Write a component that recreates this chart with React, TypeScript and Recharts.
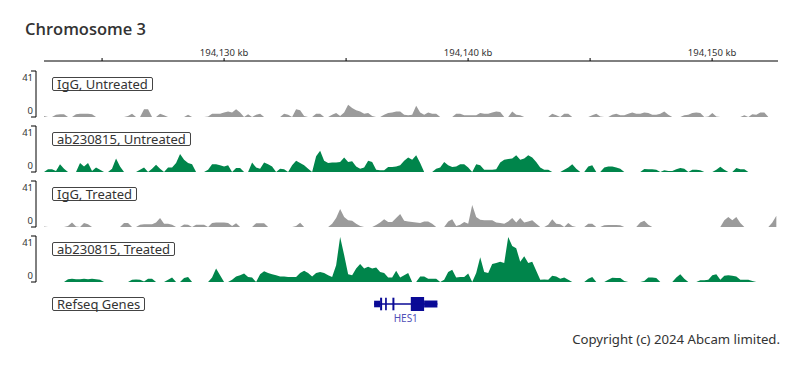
import React from 'react';
import { AreaChart, Area, XAxis, YAxis, LineChart, Line, ComposedChart, ReferenceArea, ReferenceLine } from 'recharts';

const TITLE = 'Chromosome 3';
const COPYRIGHT = 'Copyright (c) 2024 Abcam limited.';
const X_START_KB = 194122.62;
const X_END_KB = 194152.70;
const LEFT_PAD_KB = 0.328;
const BIN_KB = 0.164;
const AXIS_TICKS = [194125, 194130, 194135, 194140, 194145, 194150];
const Y_MAX = 41;
const Y_TICKS = [0, 41];

const TRACK_NAMES = ['IgG, Untreated', 'ab230815, Untreated', 'IgG, Treated', 'ab230815, Treated'];
const TRACK_COLORS = ['#9b9b9b', '#00854b', '#9b9b9b', '#00854b'];

const IGG_UNTREATED = [
  1, 0, 0, 2, 2.5, 2.5, 0, 0, 2.5, 3,
  3, 3, 2.5, 0, 0, 0, 0, 0, 0, 0,
  0, 1, 3, 0, 0, 7, 7, 0, 0, 3,
  1.5, 0, 0, 0, 0, 0, 2, 0, 0, 0,
  0, 0.5, 3, 3, 3, 4, 5, 4, 7, 4,
  0, 2.5, 0, 2, 3, 0, 0, 0, 0, 0,
  3, 2, 0, 7, 6, 1, 0, 0, 3, 3,
  0, 0, 2, 3.5, 1, 4, 11, 8, 6, 5,
  3, 3.5, 1, 0, 0, 2, 3.5, 4, 5, 5,
  2, 1.5, 2, 10, 4, 2, 4, 3, 3, 0,
  0, 0, 0, 3, 3, 1.5, 1.5, 1.5, 1.5, 3.5,
  3, 3, 4, 5, 4.5, 0, 0, 5, 2, 1.5,
  0, 0, 0, 0, 0, 0, 0, 3, 1.5, 0,
  3, 3, 0, 0, 0, 0, 0, 1.5, 3, 0.5,
  0, 0, 2, 3, 1.5, 1.5, 3, 4, 3, 3,
  4, 3.5, 2, 2, 3, 5, 2, 0, 0, 0,
  1.5, 2, 3.5, 4, 3.5, 0, 0.5, 3.5, 0.5, 0,
  0, 0, 0, 0, 0, 1.5, 0, 2.5, 2, 4,
  4, 0, 0, 0,
];

const AB_UNTREATED = [
  0, 2.5, 2.5, 1, 7, 3, 0, 0, 0, 8,
  5, 8, 1, 4, 2, 0, 0, 3, 12, 5,
  0, 0, 0, 0, 2, 4, 0, 3, 6.5, 3,
  0, 4, 4, 8, 16, 11, 8, 7, 0, 0,
  0, 2, 7, 7, 6, 5, 6, 0, 3.5, 3.5,
  0, 0, 8.5, 4, 3, 8.5, 7, 5, 0, 3,
  2.5, 0, 6, 10, 8, 6, 3, 0, 14, 19,
  10, 8, 8.5, 8.5, 9, 13, 9, 9.5, 5, 3,
  4, 10, 9, 2, 1.5, 1.5, 4.5, 4.5, 5, 6,
  10, 13, 11, 15, 8, 0, 0, 0, 3, 4,
  9, 6, 4.5, 5, 7, 7, 4, 0, 7, 6,
  2, 2, 2, 2.5, 8.5, 11, 11.5, 12, 15, 11,
  12, 15, 13, 9, 4, 2, 2, 0, 0, 0,
  2, 4, 7, 3, 0, 0, 5, 6, 0, 0,
  4, 5, 5, 4, 3, 0, 0, 0, 0, 0,
  2.7, 2.5, 2.5, 2, 0, 1.5, 1, 1, 2.5, 3.5,
  3, 0, 2, 2, 1.5, 0, 0, 0, 2, 4.7,
  2, 0, 0, 3.6, 2.5, 2.5, 0, 0, 0, 0,
  0, 0, 0, 0,
];

const IGG_TREATED = [
  0.5, 0, 0, 0, 0, 0, 1, 4, 0.5, 0,
  3.5, 2.5, 0, 0, 0, 0, 0, 0, 0, 0,
  3.5, 3.5, 0, 0, 2, 2.5, 2.5, 2.5, 4, 8,
  3, 3, 2, 0, 0, 2.3, 2, 0, 2, 2,
  2, 0, 3.5, 4, 4, 4, 3.5, 1, 3.4, 0,
  0, 0, 0, 3.4, 3.4, 3.4, 0, 0, 0, 0,
  0, 0, 0, 1, 3.8, 0, 0, 0, 0, 0,
  0, 0, 3, 8, 16, 9, 6, 5.5, 3, 1,
  0, 0, 0, 1.7, 4, 7, 4.5, 4.5, 8, 11.5,
  5.5, 5, 4.5, 4, 3.5, 5, 5, 3, 0, 0,
  0, 5, 7, 1, 2, 4.5, 3, 19.5, 9, 6.5,
  6, 6, 6, 4, 3.5, 3, 5, 8, 4, 8,
  4, 5, 6, 3, 0, 0, 2, 7, 3, 2.5,
  0, 3.6, 1, 0, 0, 0, 3, 3, 0, 0,
  1.5, 1.8, 1.8, 1.8, 1.5, 0, 0, 0, 0, 4,
  5.6, 2, 0, 0, 0, 0, 0, 0, 0, 0,
  0, 0, 0, 0, 0, 0, 0, 0, 0, 0,
  6, 9, 6, 9, 3.5, 0, 0, 0, 0, 0,
  0, 0, 4, 10,
];

const AB_TREATED = [
  0, 0, 0, 0, 0, 0, 2.5, 3, 2.5, 2.5,
  3, 2.5, 3, 2.5, 2, 0, 0, 0, 0, 0,
  0, 0, 2, 2.3, 2, 0.5, 3, 3, 0, 0,
  0, 2, 4, 0, 0, 3.5, 4.5, 0, 0, 0,
  0, 0, 4, 12, 6, 0, 0, 2, 5, 6,
  7.5, 4.5, 4, 0, 7, 9.5, 8, 7, 6, 5,
  5, 4.5, 4.5, 4.5, 8, 10, 8, 5, 8, 9,
  8, 6, 4.5, 15, 40, 24, 7, 6, 12, 16,
  12, 13.5, 12, 13, 9, 8, 4, 4, 10, 4,
  6, 8, 0, 0, 5, 5, 3, 3, 3, 0,
  2, 9, 11, 4, 4.5, 4.5, 7.5, 0, 8, 22,
  9, 8, 16, 17, 18, 17, 40, 32, 30, 18,
  23, 17, 18, 10, 2, 2.3, 2, 5.5, 5, 3,
  4, 2, 0, 0, 0, 0, 3, 4.5, 0, 0,
  0, 2, 3.7, 3.5, 3.5, 1, 0, 0, 0, 0,
  1, 4, 4, 3.5, 0, 0, 0, 0, 4, 7,
  3, 0, 0, 0, 1.5, 1.5, 2, 6, 7, 2,
  5.5, 6, 5.5, 5, 2, 2, 2, 1, 0, 0,
  0, 0, 0, 0,
];

const GENE_NAME = 'HES1';
const GENE_TRACK_NAME = 'Refseq Genes';
const GENE_START_KB = 194136.148;
const GENE_END_KB = 194138.742;
const EXON_STARTS = [194136.148, 194136.394, 194136.599, 194136.898, 194137.652, 194138.197];
const EXON_ENDS = [194136.394, 194136.476, 194136.668, 194136.980, 194138.197, 194138.742];
const EXON_HALF_HEIGHTS = [0.47, 0.9, 0.9, 0.9, 1, 0.5];

const GENE_COLOR = '#0a0a96';
const FONT = "'Noto Sans', sans-serif";

const TRACK_TOP = 71;
const TRACK_STEP = 55;
const TRACK_H = 46;

const fmtTick = (v: number) => {
  const r = Math.round(v);
  return r % 10 === 0 ? `${r.toLocaleString('en-US')} kb` : '';
};

const BracketTick = (props: any) => {
  const { x, y, payload } = props;
  const isTop = payload.value === Y_MAX;
  return (
    <text x={x + 2} y={y + (isTop ? 7 : -6)} dy="0.35em" textAnchor="end" fontSize={9.5} fill="#333" fontFamily={FONT}>
      {payload.value}
    </text>
  );
};

export default function App() {
  const tracks = [IGG_UNTREATED, AB_UNTREATED, IGG_TREATED, AB_TREATED];
  const positions = IGG_UNTREATED.map((_, i) => X_START_KB + i * BIN_KB);
  const axisRows = positions.map((x) => ({ x, v: 0 }));
  const geneRows = [{ x: GENE_START_KB, y: 0 }, { x: GENE_END_KB, y: 0 }];
  const labelBox: React.CSSProperties = {
    position: 'absolute', left: 52, border: '1px solid #444', borderRadius: 2,
    padding: '0 4px', fontSize: 13, lineHeight: '12px', height: 12, color: '#333', whiteSpace: 'nowrap',
  };
  return (
    <div style={{ position: 'absolute', left: 0, top: 0, width: 794, height: 378, background: '#fff', fontFamily: FONT, color: '#333', overflow: 'hidden' }}>
      <div style={{ position: 'absolute', left: 25, top: 21, fontSize: 16.5, lineHeight: '16px', fontWeight: 600, color: '#333', fontFamily: "'Open Sans', 'Noto Sans', sans-serif" }}>{TITLE}</div>

      <div style={{ position: 'absolute', left: 0, top: 0 }}>
        <LineChart width={794} height={66} data={axisRows} margin={{ top: 31, right: 16, bottom: 0, left: 44 }}>
          <XAxis type="number" dataKey="x" orientation="top" domain={[X_START_KB, X_END_KB]} ticks={AXIS_TICKS}
            tickFormatter={fmtTick} height={30} tickSize={3} tickMargin={2} interval={0} allowDataOverflow
            axisLine={{ stroke: '#000' }} tickLine={{ stroke: '#000' }}
            tick={{ fontSize: 9.5, fill: '#333', fontFamily: FONT }} />
          <YAxis hide domain={[0, Y_MAX]} />
          <Line dataKey="v" stroke="none" dot={false} activeDot={false} isAnimationActive={false} />
        </LineChart>
      </div>

      {tracks.map((vals, t) => {
        const rows = vals.map((v, i) => ({ x: positions[i], v }));
        return (
          <div key={t} style={{ position: 'absolute', left: 0, top: TRACK_TOP + t * TRACK_STEP - 5 }}>
            <AreaChart width={794} height={TRACK_H + 10} data={rows} margin={{ top: 5, right: 16, bottom: 5, left: 0 }}>
              <XAxis type="number" dataKey="x" domain={[X_START_KB - LEFT_PAD_KB, X_END_KB]} hide allowDataOverflow />
              <YAxis domain={[0, Y_MAX]} ticks={Y_TICKS} width={36} tickSize={5} tickMargin={0} interval={0}
                allowDataOverflow axisLine={{ stroke: '#000' }} tickLine={{ stroke: '#000' }} tick={<BracketTick />} />
              <Area type="linear" dataKey="v" stroke="none" fill={TRACK_COLORS[t]} fillOpacity={1}
                dot={false} activeDot={false} isAnimationActive={false} />
            </AreaChart>
          </div>
        );
      })}

      {TRACK_NAMES.map((name, t) => (
        <div key={name} style={{ ...labelBox, top: 77 + t * TRACK_STEP }}>{name}</div>
      ))}
      <div style={{ ...labelBox, top: 77 + 4 * TRACK_STEP }}>{GENE_TRACK_NAME}</div>

      <div style={{ position: 'absolute', left: 0, top: 292 }}>
        <ComposedChart width={794} height={40} data={geneRows} margin={{ top: 5, right: 16, bottom: 21, left: 36 }}>
          <XAxis type="number" dataKey="x" domain={[X_START_KB - LEFT_PAD_KB, X_END_KB]} hide allowDataOverflow />
          <YAxis type="number" domain={[-1, 1]} hide allowDataOverflow />
          <ReferenceLine segment={[{ x: GENE_START_KB, y: 0 }, { x: GENE_END_KB, y: 0 }]} stroke={GENE_COLOR} strokeWidth={1.5} ifOverflow="visible" />
          {EXON_STARTS.map((s, k) => (
            <ReferenceArea key={k} x1={s} x2={EXON_ENDS[k]} y1={-EXON_HALF_HEIGHTS[k]} y2={EXON_HALF_HEIGHTS[k]}
              fill={GENE_COLOR} fillOpacity={1} stroke="none" ifOverflow="visible" />
          ))}
          <ReferenceArea x1={GENE_START_KB} x2={GENE_END_KB} y1={-1} y2={1} fillOpacity={0} stroke="none" ifOverflow="visible"
            label={{ value: GENE_NAME, position: 'bottom', offset: 4, fill: '#5050b8', fontSize: 10, fontFamily: FONT }} />
          <Line dataKey="y" stroke="none" dot={false} activeDot={false} isAnimationActive={false} />
        </ComposedChart>
      </div>

      <div style={{ position: 'absolute', right: 14, top: 332, fontSize: 13.2, lineHeight: '14px', color: '#333', whiteSpace: 'nowrap' }}>{COPYRIGHT}</div>
    </div>
  );
}
